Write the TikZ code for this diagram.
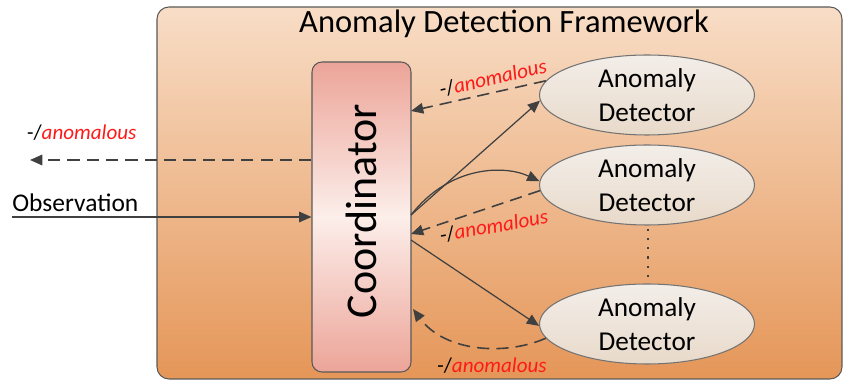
\documentclass[tikz,border=0pt]{standalone}
\usepackage{fontspec}
\setmainfont{Carlito}
\usetikzlibrary{shapes.geometric,arrows.meta}
\definecolor{lineg}{HTML}{404040}
\definecolor{redtxt}{HTML}{FF1A1A}
\tikzset{
  conn/.style={draw=lineg, line width=0.7pt, -{Triangle[length=7pt,width=6pt]}},
  dconn/.style={conn, dash pattern=on 7pt off 4pt, line width=0.9pt},
  detector/.style={ellipse, draw=gray!90!black, line width=0.6pt, minimum width=215*0.02cm, minimum height=80*0.02cm,
    top color={rgb,255:red,243;green,238;blue,233}, bottom color={rgb,255:red,232;green,218;blue,202}, align=center, font=\fontsize{15.5}{19}\selectfont, inner sep=0pt},
  lab/.style={font=\fontsize{12}{13}\selectfont, inner sep=1pt},
}
\newcommand{\anom}{-/\textcolor{redtxt}{\itshape anomalous}}
\begin{document}
\begin{tikzpicture}[x=0.02cm,y=-0.02cm]
\useasboundingbox (0,0) rectangle (843,381);
% framework box
\shade[draw=gray!70!black, line width=0.6pt, rounded corners=12*0.02cm, top color={rgb,255:red,248;green,221;blue,198}, bottom color={rgb,255:red,229;green,150;blue,88}]
  (157,7) rectangle (842,379);
\node[font=\fontsize{18.5}{20}\selectfont] (title) at (504,24) {Anomaly Detection Framework};
% coordinator
\node[draw=gray!70!black, line width=0.6pt, rounded corners=10*0.02cm, minimum width=99*0.02cm, minimum height=310*0.02cm,
  top color={rgb,255:red,236;green,164;blue,152}, bottom color={rgb,255:red,236;green,164;blue,152}, middle color={rgb,255:red,252;green,238;blue,234}, inner sep=0pt] (coord) at (361.5,217) {};
\node[rotate=90, font=\fontsize{25}{27}\selectfont] (coordtxt) at (361.5,211) {Coordinator};
% detectors
\node[detector] (d1) at (647,95) {Anomaly\\Detector};
\node[detector] (d2) at (647,185) {Anomaly\\Detector};
\node[detector] (d3) at (647,324) {Anomaly\\Detector};
\coordinate (dt) at (648,229);
\coordinate (db) at (648,282);
\draw[lineg, line width=1.2pt, dash pattern=on 1.2pt off 4pt] (dt) -- (db);
% external
\coordinate (obsin) at (12,217);
\coordinate (anomout) at (30,160);
\draw[conn] (obsin) -- (coord.west |- obsin);
\node[font=\fontsize{14.5}{16}\selectfont, anchor=south west, inner sep=0pt] (obs) at (12,212) {Observation};
\draw[dconn] (coord.west |- anomout) -- (anomout);
\node[lab, anchor=west] (al) at (25,133) {\anom};
% coordinator to detectors
\coordinate (c1) at (411,215);
\coordinate (c3) at (411,240);
\draw[conn] (c1) -- (d1.183);
\draw[conn] (c1) .. controls (450,165) and (505,165) .. (d2.178);
\draw[conn] (c3) -- (d3.181);
% detectors back
\draw[dconn] (d1.172) -- (411,111) coordinate (c1i);
\node[lab, rotate=13] (a1) at (493,78) {\anom};
\draw[dconn] (d2.183) -- (411,234) coordinate (c2i);
\node[lab, rotate=10] (a2) at (494,226) {\anom};
\draw[dconn] (d3.188) .. controls (505,356) and (445,352) .. (413,309) coordinate (c3i);
\node[lab] (a3) at (492,366) {\anom};
\end{tikzpicture}
\end{document}
